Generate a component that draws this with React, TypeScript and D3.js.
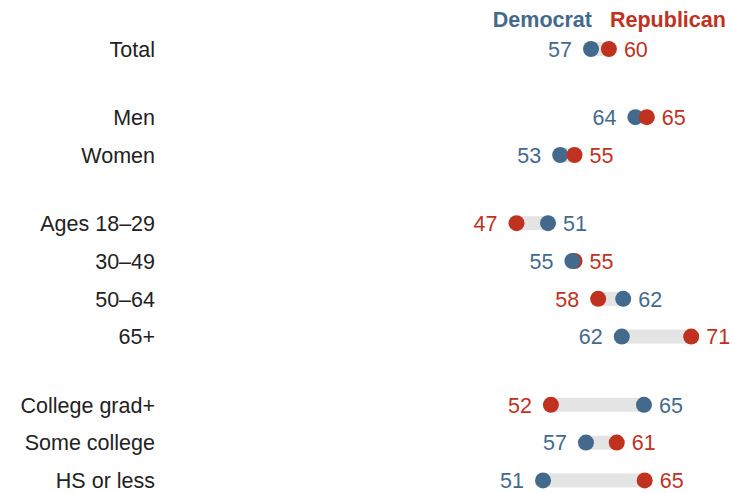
import React from "react";
import * as d3 from "d3";

const categories = [
  "Total",
  "Men",
  "Women",
  "Ages 18\u201329",
  "30\u201349",
  "50\u201364",
  "65+",
  "College grad+",
  "Some college",
  "HS or less",
];
const groups = [0, 1, 1, 2, 2, 2, 2, 3, 3, 3];
const democrat = [57.4, 63.6, 53.1, 51.4, 54.8, 61.9, 61.7, 64.8, 56.7, 50.7];
const republican = [59.9, 65.2, 55.1, 47.0, 55.1, 58.4, 71.4, 51.8, 61.0, 64.9];

const BLUE = "#436a8d";
const RED = "#c0311f";
const FONT = "'Liberation Sans', Arial, sans-serif";

export default function App() {
  const width = 733;
  const height = 493;
  const x = d3.scaleLinear().domain([0, 100]).range([180, 896]);
  const rowPitch = 37.8;
  const groupGap = 30.4;
  const y = (i: number) => 49 + i * rowPitch + groups[i] * groupGap;
  const r = 8;
  const fmt = (v: number) => String(Math.round(v));
  const fs = 21.5;

  return (
    <svg
      width={width}
      height={height}
      style={{ position: "absolute", left: 0, top: 0, background: "#fff" }}
      fontFamily={FONT}
    >
      <text x={592} y={27} textAnchor="end" fontWeight="bold" fontSize={21.5} fill={BLUE}>
        Democrat
      </text>
      <text x={610} y={27} textAnchor="start" fontWeight="bold" fontSize={21.5} fill={RED}>
        Republican
      </text>
      {categories.map((c, i) => {
        const cy = y(i);
        const d = democrat[i];
        const rp = republican[i];
        const xd = x(d);
        const xr = x(rp);
        const lo = Math.min(xd, xr);
        const hi = Math.max(xd, xr);
        const demLeft = xd <= xr;
        const near = Math.abs(d - rp) < 0.5;
        const demDot = <circle key="d" cx={xd} cy={cy} r={r} fill={BLUE} />;
        const repDot = <circle key="r" cx={xr} cy={cy} r={r} fill={RED} />;
        const leftX = lo - 19;
        const rightX = hi + 15;
        return (
          <g key={c}>
            <text x={155} y={cy} dy="0.36em" textAnchor="end" fontSize={fs} fill="#222">
              {c}
            </text>
            <rect x={lo} y={cy - 7} width={hi - lo} height={14} fill="#e4e4e4" />
            {near ? [repDot, demDot] : [demDot, repDot]}
            <text
              x={leftX}
              y={cy}
              dy="0.36em"
              textAnchor="end"
              fontSize={fs}
              fill={demLeft ? BLUE : RED}
            >
              {fmt(demLeft ? d : rp)}
            </text>
            <text
              x={rightX}
              y={cy}
              dy="0.36em"
              textAnchor="start"
              fontSize={fs}
              fill={demLeft ? RED : BLUE}
            >
              {fmt(demLeft ? rp : d)}
            </text>
          </g>
        );
      })}
    </svg>
  );
}
